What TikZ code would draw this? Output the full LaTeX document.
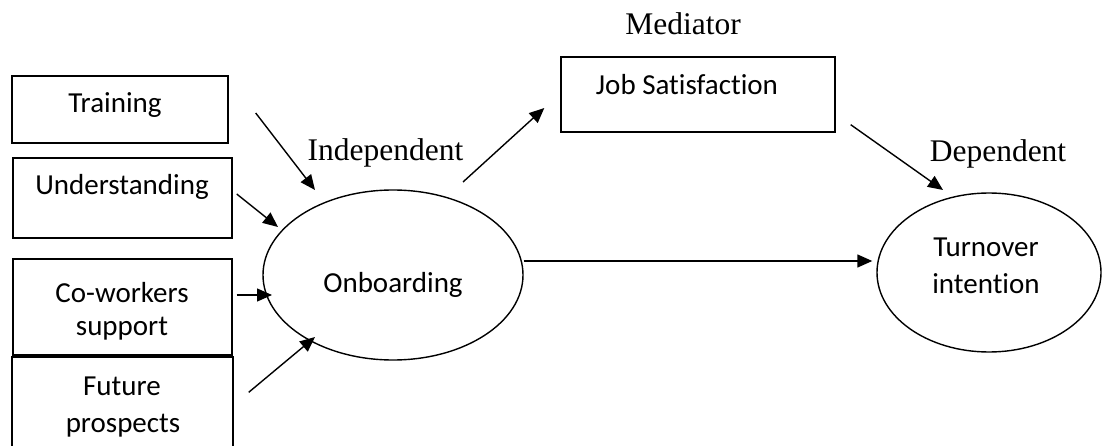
\documentclass[tikz,border=0pt]{standalone}
\usepackage{fontspec}
\setmainfont{Liberation Serif}
\newfontfamily\calfnt[Ligatures=NoCommon]{Carlito}
\usetikzlibrary{arrows.meta,calc,shapes.geometric}
\tikzset{
  box/.style={draw, line width=1.4pt, rectangle, inner sep=0pt},
  oval/.style={draw, line width=1.4pt, ellipse, inner sep=0pt},
  ct/.style={font=\calfnt\fontsize{29}{34}\selectfont, inner sep=0pt, anchor=base},
  st/.style={font=\fontsize{31.5}{36}\selectfont, inner sep=0pt, anchor=base},
  arr/.style={line width=1.4pt, -{Triangle[length=15pt,width=13pt]}}
}
\begin{document}
\begin{tikzpicture}[x=1pt,y=-1pt]
\useasboundingbox (0,0) rectangle (1102,446);
\clip (0,0) rectangle (1102,446);
% boxes
\node[box, minimum width=216, minimum height=67] (training) at (120,109.5) {};
\node[box, minimum width=219, minimum height=80] (understanding) at (122.5,198) {};
\node[box, minimum width=219, minimum height=96] (coworkers) at (122.5,307) {};
\node[box, minimum width=221, minimum height=120] (future) at (122.5,417) {};
\node[box, minimum width=274, minimum height=75] (job) at (698,94.5) {};
\node[oval, minimum width=260, minimum height=170] (onb) at (393,275) {};
\node[oval, minimum width=224, minimum height=159] (turn) at (989,272.5) {};
% texts
\node[ct] (ttraining) at (115,113) {Training};
\node[ct] (tunder) at (122,195) {Understanding};
\node[ct] (tco1) at (122,302) {Co-workers};
\node[ct] (tco2) at (122,335) {support};
\node[ct] (tfu1) at (122,395) {Future};
\node[ct] (tfu2) at (123,432) {prospects};
\node[ct] (tonb) at (393,292) {Onboarding};
\node[ct] (tjob) at (687,95) {Job Satisfaction};
\node[ct] (tturn1) at (986,257) {Turnover};
\node[ct] (tturn2) at (986,293) {intention};
\node[st] (lmed) at (683,35) {Mediator};
\node[st] (lind) at (385.5,161) {Independent};
\node[st] (ldep) at (998,162) {Dependent};
% arrows
\draw[arr] ($(training.east)+(27,3.5)$) -- ($(onb.center)+(-78,-85)$);
\draw[arr] ($(understanding.east)+(4,-4)$) -- ($(onb.center)+(-115,-48)$);
\draw[arr] ($(coworkers.east)+(4,-12)$) -- ($(onb.center)+(-121,20)$);
\draw[arr] ($(future.north east)+(15,36)$) -- ($(onb.center)+(-78,62)$);
\draw[arr] ($(onb.center)+(70,-93)$) -- ($(job.west)+(-16,13.5)$);
\draw[arr] ($(job.south east)+(15,-8)$) -- ($(turn.center)+(-46,-82.5)$);
\draw[arr] ($(onb.east)+(0,-14)$) -- ($(turn.west)+(-4,-11.5)$);
\end{tikzpicture}
\end{document}
